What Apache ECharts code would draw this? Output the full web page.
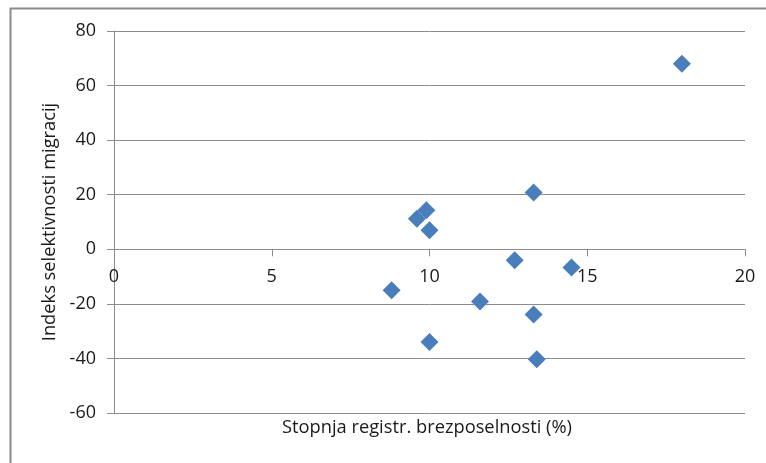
<!DOCTYPE html>
<html>
<head>
<meta charset="utf-8">
<script src="https://cdn.jsdelivr.net/npm/echarts@6/dist/echarts.min.js"></script>
<style>html,body{margin:0;padding:0;background:#fff;}#c{width:766px;height:463px;}</style>
</head>
<body>
<div id="c"></div>
<script>
// Data
var unemploymentRate = [18.0, 13.3, 9.6, 9.9, 10.0, 8.8, 12.7, 14.5, 11.6, 13.3, 10.0, 13.4];
var selectivityIndex = [68.0, 20.8, 11.2, 14.3, 7.0, -15.0, -4.0, -6.7, -19.1, -23.9, -34.0, -40.3];
var xTicks = [0, 5, 10, 15, 20];
var yTicks = [-60, -40, -20, 0, 20, 40, 60, 80];
var xTitle = 'Stopnja registr. brezposelnosti (%)';
var yTitle = 'Indeks selektivnosti migracij';

var points = unemploymentRate.map(function (x, i) { return [x, selectivityIndex[i]]; });
var font = 'Open Sans';
var gridColor = '#8c8c8c';
var textColor = '#1a1a1a';

var chart = echarts.init(document.getElementById('c'));
chart.setOption({
  animation: false,
  backgroundColor: '#fff',
  grid: { left: 114, right: 21, top: 31, bottom: 50 },
  xAxis: [{
    type: 'value',
    min: xTicks[0], max: xTicks[xTicks.length - 1], interval: 5,
    splitLine: { show: false },
    axisLine: { show: true, onZero: true, lineStyle: { color: gridColor, width: 1 } },
    axisTick: { show: true, length: 7, lineStyle: { color: gridColor } },
    axisLabel: { show: false }
  }, {
    type: 'value', position: 'bottom', offset: -164,
    min: xTicks[0], max: xTicks[xTicks.length - 1], interval: 5,
    splitLine: { show: false },
    axisLine: { show: false, onZero: false },
    axisTick: { show: false },
    axisLabel: { margin: 19, fontSize: 18, fontFamily: font, color: textColor }
  }],
  yAxis: {
    type: 'value',
    min: yTicks[0], max: yTicks[yTicks.length - 1], interval: 20,
    name: yTitle, nameLocation: 'middle', nameGap: 50, nameRotate: 90,
    nameTextStyle: { fontSize: 18.3, fontFamily: font, color: textColor },
    splitLine: { show: true, lineStyle: { color: gridColor, width: 1 } },
    axisLine: { show: true, lineStyle: { color: gridColor, width: 1 } },
    axisTick: { show: true, length: 7, lineStyle: { color: gridColor } },
    axisLabel: { margin: 18, fontSize: 18, fontFamily: font, color: textColor }
  },
  graphic: [
    { type: 'rect', left: 8, top: 6, z: -1, silent: true,
      shape: { width: 800, height: 500 },
      style: { fill: 'none', stroke: '#8a8a8a', lineWidth: 2 } },
    { type: 'text', left: 282, top: 419, silent: true,
      style: { text: xTitle, font: '18.3px "Open Sans"', fill: textColor } }
  ],
  series: [{
    type: 'scatter',
    data: points,
    symbol: 'diamond',
    symbolSize: 18,
    itemStyle: { color: '#4A7EBB', opacity: 1 }
  }]
});
</script>
</body>
</html>
